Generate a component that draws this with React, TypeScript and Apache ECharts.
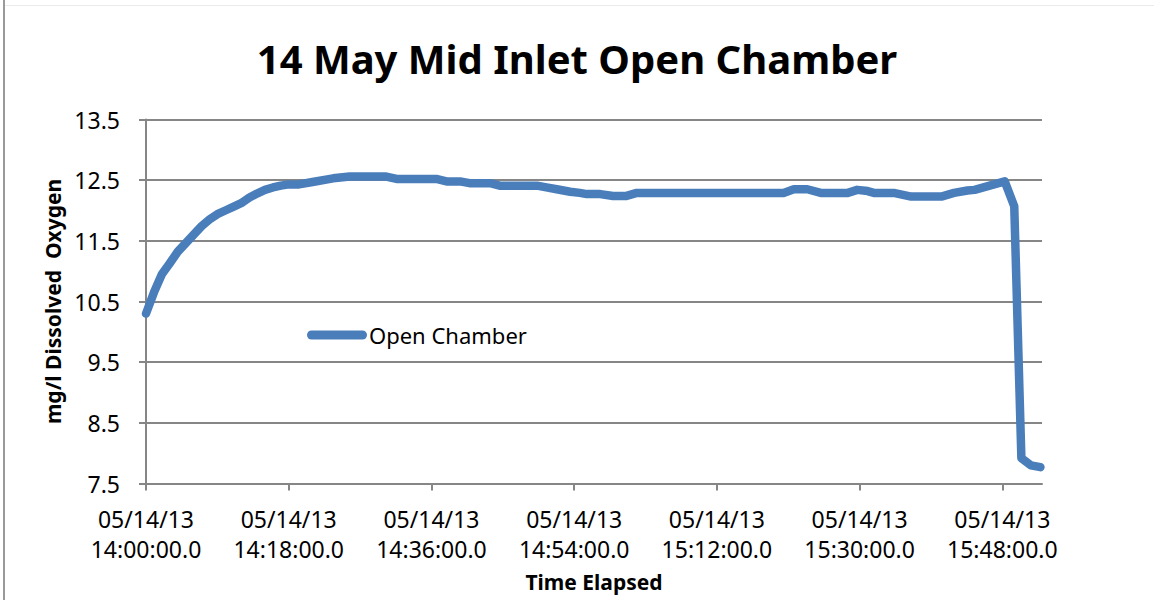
import React, { useEffect, useRef } from "react";
import * as echarts from "echarts";

const titleText = "14 May Mid Inlet Open Chamber";
const seriesName = "Open Chamber";
const yAxisName = "mg/l Dissolved  Oxygen";
const xAxisName = "Time Elapsed";
const dateLabel = "05/14/13";
const startHour = 14;

// minutes elapsed since 14:00:00
const minutes = [
  0, 1, 2, 3, 4, 5, 6, 7, 8, 9, 10, 11, 12, 13, 14, 15, 16, 17, 18, 19.3, 21,
  23.6, 25.7, 30.3, 31.6, 36.6, 37.9, 39.6, 40.8, 43.4, 44.6, 49.3, 50.5, 51.8,
  53.5, 54.7, 55.6, 57.3, 58.9, 60.6, 61.9, 80.4, 81.7, 83.4, 85.1, 88.5, 89.7,
  91, 91.8, 94.3, 96.5, 100.3, 101.9, 103.6, 104.5, 108.3, 109.5, 110.4, 111.6,
  112.8,
];
const oxygen = [
  10.3, 10.65, 10.95, 11.13, 11.32, 11.46, 11.6, 11.74, 11.85, 11.94, 12.0,
  12.06, 12.12, 12.21, 12.28, 12.34, 12.38, 12.41, 12.43, 12.43, 12.47, 12.53,
  12.56, 12.56, 12.52, 12.52, 12.48, 12.48, 12.45, 12.45, 12.41, 12.41, 12.38,
  12.35, 12.31, 12.29, 12.27, 12.27, 12.24, 12.24, 12.29, 12.29, 12.35, 12.35,
  12.29, 12.29, 12.34, 12.32, 12.29, 12.29, 12.23, 12.23, 12.29, 12.33, 12.34,
  12.48, 12.07, 7.92, 7.8, 7.77,
];

const xTickMinutes = [0, 18, 36, 54, 72, 90, 108];
const yTicks = [7.5, 8.5, 9.5, 10.5, 11.5, 12.5, 13.5];
const xMax = 113;

const FONT = "Noto Sans";
const AXIS_GRAY = "#868686";

function timeLabel(m: number): string {
  const total = startHour * 60 + m;
  const h = Math.floor(total / 60);
  const mm = Math.round(total % 60);
  return `${dateLabel}\n${h}:${String(mm).padStart(2, "0")}:00.0`;
}

export default function App() {
  const ref = useRef<HTMLDivElement>(null);

  useEffect(() => {
    if (!ref.current) return;
    const chart = echarts.init(ref.current, undefined, { renderer: "svg" });
    const data = minutes.map((m, i) => [m, oxygen[i]]);
    chart.setOption({
      animation: false,
      backgroundColor: "#ffffff",
      title: {
        text: titleText,
        left: "center",
        top: 33,
        padding: 0,
        textStyle: {
          fontFamily: FONT,
          fontWeight: "bold",
          fontSize: 40,
          lineHeight: 50,
          color: "#000",
        },
      },
      legend: {
        data: [seriesName],
        left: 307,
        top: 324,
        padding: 0,
        itemWidth: 60,
        itemHeight: 9,
        icon: "path://M4.5 0H55.5A4.5 4.5 0 0 1 55.5 9H4.5A4.5 4.5 0 0 1 4.5 0Z",
        itemStyle: { color: "#4A7EBB" },
        textStyle: { fontFamily: FONT, fontSize: 22, color: "#000", padding: [0, 0, 0, -3] },
      },
      grid: { left: 146, right: 112, top: 119.5, bottom: 116.5, containLabel: false },
      xAxis: {
        type: "value",
        min: 0,
        max: xMax,
        name: xAxisName,
        nameLocation: "middle",
        nameGap: 88,
        nameTextStyle: { fontFamily: FONT, fontWeight: "bold", fontSize: 21, color: "#000" },
        axisLine: { show: true, lineStyle: { color: AXIS_GRAY, width: 2 } },
        axisTick: { show: true, length: 7, lineStyle: { color: AXIS_GRAY, width: 2 }, customValues: xTickMinutes },
        axisLabel: {
          customValues: xTickMinutes,
          formatter: (v: number) => timeLabel(v),
          fontFamily: FONT,
          fontSize: 23,
          lineHeight: 30,
          margin: 20,
          color: "#000",
        },
        splitLine: { show: false },
      },
      yAxis: {
        type: "value",
        min: 7.5,
        max: 13.5,
        name: yAxisName,
        nameLocation: "middle",
        nameGap: 78,
        nameTextStyle: { fontFamily: FONT, fontWeight: "bold", fontSize: 21, color: "#000" },
        axisLine: { show: true, lineStyle: { color: AXIS_GRAY, width: 2 } },
        axisTick: { show: true, length: 7, lineStyle: { color: AXIS_GRAY, width: 2 }, customValues: yTicks },
        axisLabel: {
          customValues: yTicks,
          formatter: (v: number) => v.toFixed(1),
          fontFamily: FONT,
          fontSize: 23,
          margin: 26,
          color: "#000",
        },
        splitLine: { show: true, lineStyle: { color: AXIS_GRAY, width: 2 } },
      },
      series: [
        {
          name: seriesName,
          type: "line",
          data,
          showSymbol: false,
          symbol: "none",
          lineStyle: { color: "#4A7EBB", width: 8.5, cap: "round", join: "round" },
          itemStyle: { color: "#4A7EBB" },
        },
      ],
      graphic: [
        {
          type: "line",
          shape: { x1: 4, y1: 0, x2: 4, y2: 600 },
          style: { stroke: "#9a9a9a", lineWidth: 2 },
          silent: true,
        },
        {
          type: "line",
          shape: { x1: 5, y1: 5.5, x2: 1154, y2: 5.5 },
          style: { stroke: "#ebebeb", lineWidth: 1 },
          silent: true,
        },
      ],
    });
    return () => chart.dispose();
  }, []);

  return (
    <div
      ref={ref}
      style={{ position: "fixed", left: 0, top: 0, width: 1154, height: 600, background: "#fff" }}
    />
  );
}
